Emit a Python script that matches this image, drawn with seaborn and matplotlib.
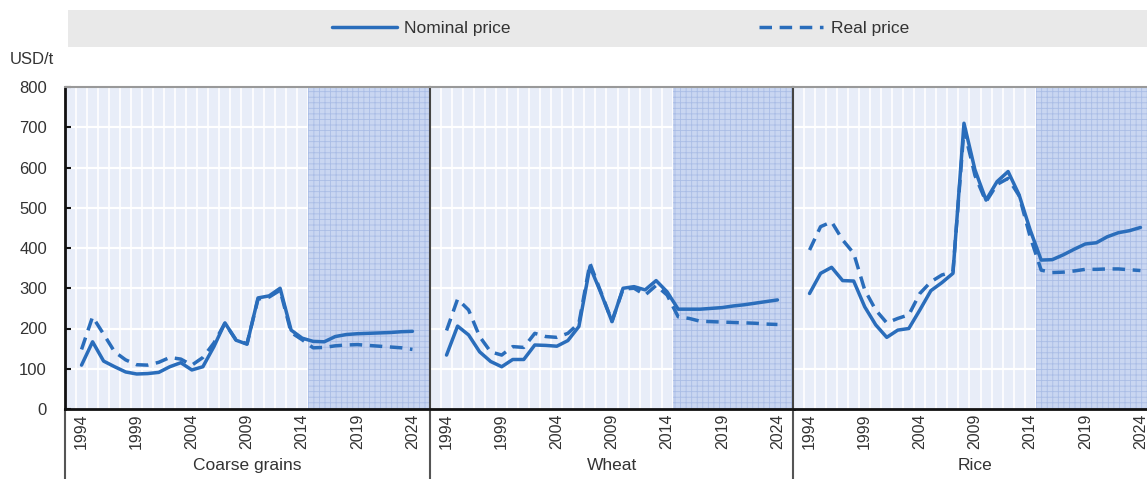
import numpy as np
import pandas as pd
import matplotlib
matplotlib.use("Agg")
import matplotlib.pyplot as plt
from matplotlib.lines import Line2D
from matplotlib.patches import Rectangle
import seaborn as sns

years = list(range(1994, 2025))
commodities = ["Coarse grains", "Wheat", "Rice"]
coarse_nominal = [109, 167, 119, 105, 92, 87, 88, 91, 105, 115, 97, 105, 155, 214, 171, 161,
                  276, 281, 300, 196, 176, 168, 167, 180, 185, 187, 188, 189, 190, 192, 193]
coarse_real = [148, 229, 186, 142, 122, 110, 109, 116, 128, 124, 109, 128, 164, 213, 172, 162,
               273, 278, 295, 190, 172, 152, 153, 157, 159, 160, 158, 156, 154, 152, 148]
wheat_nominal = [134, 206, 184, 142, 118, 105, 123, 123, 159, 158, 156, 170, 205, 354, 288, 217,
                 300, 304, 296, 319, 291, 248, 248, 248, 250, 252, 256, 259, 263, 267, 271]
wheat_real = [195, 273, 246, 180, 142, 134, 155, 153, 188, 180, 178, 188, 213, 362, 290, 218,
              298, 300, 283, 307, 283, 229, 225, 218, 217, 216, 215, 214, 213, 211, 210]
rice_nominal = [287, 337, 352, 319, 318, 254, 209, 178, 196, 200, 246, 294, 314, 337, 710, 594,
                519, 565, 590, 532, 445, 370, 371, 383, 397, 410, 413, 428, 438, 443, 451]
rice_real = [395, 453, 465, 420, 387, 296, 246, 214, 225, 234, 287, 316, 333, 341, 695, 580,
             515, 558, 573, 530, 428, 345, 339, 340, 343, 347, 347, 348, 348, 346, 344]
series_names = ["Nominal price", "Real price"]
projection_start = 2014.5
tick_years = [1994, 1999, 2004, 2009, 2014, 2019, 2024]
y_ticks = [0, 100, 200, 300, 400, 500, 600, 700, 800]

sns.set_theme(style="white")
plt.rcParams["font.family"] = ["Liberation Sans Narrow", "Liberation Sans", "DejaVu Sans"]
plt.rcParams["hatch.linewidth"] = 0.6

data = {
    "Coarse grains": (coarse_nominal, coarse_real),
    "Wheat": (wheat_nominal, wheat_real),
    "Rice": (rice_nominal, rice_real),
}
rows = []
for c in commodities:
    nom, real = data[c]
    for y, v in zip(years, nom):
        rows.append((c, y, v, series_names[0]))
    for y, v in zip(years, real):
        rows.append((c, y, v, series_names[1]))
df = pd.DataFrame(rows, columns=["Commodity", "Year", "Price", "Series"])

W, H = 1147, 479
fig = plt.figure(figsize=(W / 100, H / 100), dpi=100)

blue = "#2a6dbb"
bg = "#e8edf8"
dash = (3.6, 2.2)
text_col = "#333333"

left_px = [65, 430, 793]
panel_w = 364
bottom_px, top_px = 409, 87

axes = []
for i, c in enumerate(commodities):
    ax = fig.add_axes([left_px[i] / W, (H - bottom_px) / H, panel_w / W, (bottom_px - top_px) / H])
    axes.append(ax)
    ax.set_facecolor(bg)
    ax.set_xlim(1992.5, 2025.5)
    ax.set_ylim(0, 800)
    # grid
    for yv in y_ticks[1:-1]:
        ax.axhline(yv, color="white", lw=1.6, zorder=0.5)
    for xv in np.arange(1993.5, 2025.5, 1.0):
        ax.axvline(xv, color="white", lw=1.2, zorder=0.5)
    # projection shading
    ax.axvspan(projection_start, 2025.5, facecolor="#c9d6f1", edgecolor="#aabde6",
               hatch="+++", lw=0, zorder=0.7)
    sub = df[df["Commodity"] == c]
    sns.lineplot(data=sub, x="Year", y="Price", style="Series",
                 dashes={"Nominal price": "", "Real price": dash},
                 color=blue, lw=2.5, ax=ax, legend=False, zorder=3)
    ax.set_xlabel("")
    ax.set_ylabel("")
    ax.set_xticks(tick_years)
    ax.set_xticklabels([str(t) for t in tick_years], rotation=90, fontsize=11.5, color=text_col)
    ax.tick_params(axis="x", length=0, pad=3)
    ax.set_yticks(y_ticks)
    if i == 0:
        ax.set_yticklabels([str(t) for t in y_ticks], fontsize=12, color=text_col)
        ax.tick_params(axis="y", direction="in", length=4, width=1.5, color="#111111", pad=13, left=True)
        ax.spines["left"].set_color("#111111")
        ax.spines["left"].set_linewidth(2)
    else:
        ax.set_yticklabels([])
        ax.tick_params(axis="y", length=0)
        ax.spines["left"].set_color("#444444")
        ax.spines["left"].set_linewidth(1.5)
    ax.spines["bottom"].set_color("#111111")
    ax.spines["bottom"].set_linewidth(2)
    ax.spines["top"].set_color("#999999")
    ax.spines["top"].set_linewidth(1.5)
    ax.spines["right"].set_visible(False)
    for s in ax.spines.values():
        s.set_zorder(5)
    # category separator lines and label below the axis
    ax.plot([0, 0], [0, -0.23], transform=ax.transAxes, color="#555555", lw=1.5, clip_on=False)
    ax.text(0.5, -0.177, c, transform=ax.transAxes, ha="center", va="center",
            fontsize=12.5, color=text_col)

# legend band
fig.add_artist(Rectangle((68 / W, 1 - 47 / H), (W - 68) / W, 37 / H, transform=fig.transFigure,
                         facecolor="#e9e9e9", edgecolor="none", zorder=0))
handles = [Line2D([], [], color=blue, lw=2.5),
           Line2D([], [], color=blue, lw=2.5, dashes=dash)]
fig.legend(handles, series_names, loc="center", bbox_to_anchor=(621 / W, 1 - 28.5 / H),
           ncol=2, frameon=False, fontsize=12.5, handlelength=3.7, handletextpad=0.45,
           columnspacing=14.3, labelcolor=text_col)

fig.text(10 / W, 1 - 60 / H, "USD/t", ha="left", va="center", fontsize=12, color=text_col)

fig.savefig("out.png", dpi=100)
